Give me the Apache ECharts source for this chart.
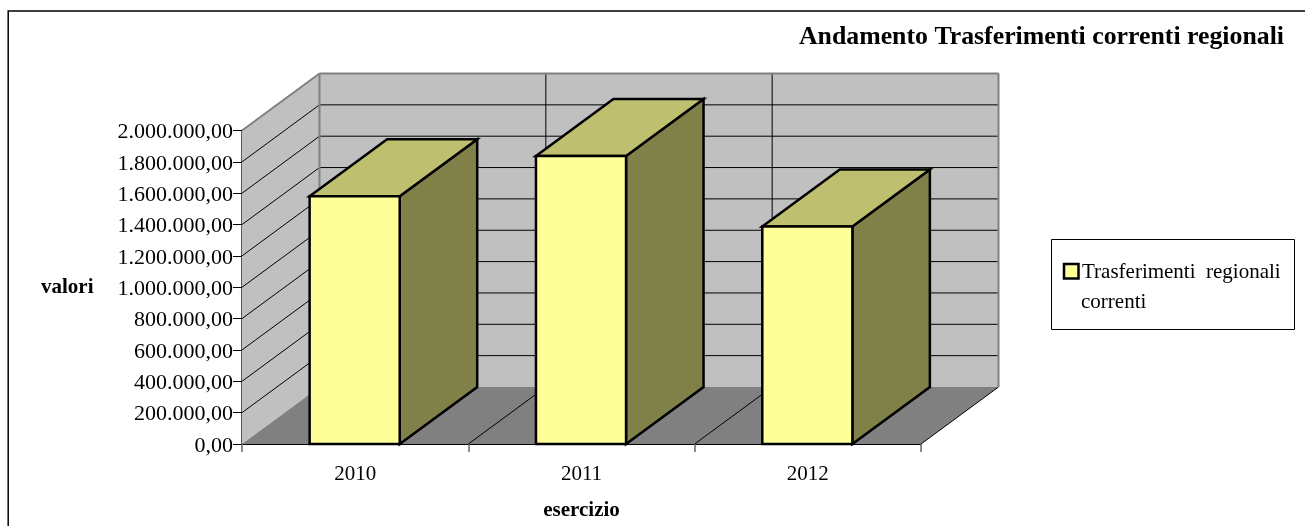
<!DOCTYPE html>
<html><head><meta charset="utf-8">
<style>html,body{margin:0;padding:0;background:#fff}#c{width:1305px;height:526px}</style>
<script src="https://cdn.jsdelivr.net/npm/echarts@6/dist/echarts.min.js"></script>
</head><body><div id="c"></div>
<script>
const categories = ['2010','2011','2012'];
const values = [1580000,1837000,1388000];
const gridValues = [0,200000,400000,600000,800000,1000000,1200000,1400000,1600000,1800000,2000000];
const seriesName = 'Trasferimenti regionali correnti';
const titleText = 'Andamento Trasferimenti correnti regionali';
const yAxisName = 'valori';
const xAxisName = 'esercizio';

const FONT = '"Liberation Serif","Times New Roman",serif';
const G = {l:242,r:921,t:130.5,b:444.5};
const DX = 77.5, DY = -57;
const chart = echarts.init(document.getElementById('c'),null,{renderer:'canvas'});
const fmt = v => {
  const s = String(v).replace(/\B(?=(\d{3})+(?!\d))/g,'.');
  return '{a|' + s + ',00}';
};
function poly(points,fill,stroke,lw,z){
  return {type:'polygon',shape:{points},z2:z||0,style:{fill,stroke,lineWidth:lw,lineJoin:'miter'}};
}
function line(a,b,stroke,lw,z){
  return {type:'line',shape:{x1:a[0],y1:a[1],x2:b[0],y2:b[1]},z2:z||0,style:{stroke,lineWidth:lw,fill:null}};
}
const back = p => [p[0]+DX,p[1]+DY];
function renderWalls(params,api){
  if(params.dataIndex!==0) return;
  const n = categories.length;
  const maxV = gridValues[gridValues.length-1];
  const A = api.coord([0,0]);
  const cw = api.size([1,0])[0];
  const x0 = A[0]-cw/2;
  const x1 = x0+cw*n;
  const yB = A[1], yT = api.coord([0,maxV])[1];
  const ch = [];
  const bl=[x0,yB], br=[x1,yB], tl=[x0,yT];
  ch.push(poly([bl,tl,back(tl),back(bl)],'#c0c0c0',null,0,0));
  ch.push(poly([back(bl),back(tl),[x1+DX,yT+DY],[x1+DX,yB+DY]],'#c0c0c0',null,0,0));
  ch.push(poly([bl,br,back(br),back(bl)],'#808080',null,0,1));
  gridValues.slice(1,-1).forEach(v=>{
    const y=api.coord([0,v])[1];
    ch.push(line([x0,y],back([x0,y]),'#000',1,2));
    ch.push(line(back([x0,y]),back([x1,y]),'#000',1,2));
  });
  ch.push(line([x0,yT],back([x0,yT]),'#808080',2,3));
  ch.push(line(back([x0,yT]),back([x1,yT]),'#808080',2,3));
  ch.push(line(back(tl),back(bl),'#808080',2,3));
  ch.push(line(back([x1,yT]),back([x1,yB]),'#808080',2,3));
  for(let i=1;i<n;i++){
    const x=x0+cw*i;
    ch.push(line(back([x,yT]),back([x,yB]),'#000',1,2));
    ch.push(line([x,yB],back([x,yB]),'#000',1,2));
  }
  ch.push(line(br,back(br),'#000',1,2));
  return {type:'group',children:ch};
}
function renderBar(params,api){
  const i=api.value(0), v=api.value(1);
  const c=api.coord([i,v]), b=api.coord([i,0]);
  const w=api.size([1,0])[0]*0.398;
  const xa=c[0]-w/2-0.5, xb=c[0]+w/2-0.5, yt=c[1], yb=b[1];
  const k='#000', lw=2.5;
  return {type:'group',children:[
    poly([[xb,yt],[xb,yb],back([xb,yb]),back([xb,yt])],'#808049',k,lw,10),
    poly([[xa,yt],[xb,yt],back([xb,yt]),back([xa,yt])],'#bfbf70',k,lw,11),
    poly([[xa,yt],[xb,yt],[xb,yb],[xa,yb]],'#ffff99',k,lw,12)
  ]};
}
chart.setOption({
  animation:false,
  backgroundColor:'#fff',
  grid:{left:G.l,top:G.t,width:G.r-G.l,height:G.b-G.t,containLabel:false},
  title:{text:titleText,right:21,top:24,padding:0,textStyle:{fontFamily:FONT,fontSize:25.8,fontWeight:'bold',color:'#000'}},
  xAxis:{type:'category',data:categories,boundaryGap:true,
    axisLine:{lineStyle:{color:'#000',width:1}},
    axisTick:{show:true,length:8,alignWithLabel:false,lineStyle:{color:'#666',width:1.5}},
    axisLabel:{fontFamily:FONT,fontSize:21,color:'#000',margin:20},
    name:xAxisName,nameLocation:'middle',nameGap:56,
    nameTextStyle:{fontFamily:FONT,fontSize:21,fontWeight:'bold',color:'#000'}},
  yAxis:{type:'value',min:0,max:2000000,interval:200000,
    axisLine:{show:true,lineStyle:{color:'#222',width:1.5}},
    axisTick:{show:true,length:9,lineStyle:{color:'#000'}},
    axisLabel:{margin:9,formatter:fmt,
      rich:{a:{fontFamily:FONT,fontSize:22,color:'#000',padding:[4,0,0,0]}}},
    splitLine:{show:false},
    name:yAxisName,nameLocation:'middle',nameGap:148.5,nameRotate:0,
    nameTextStyle:{fontFamily:FONT,fontSize:21,fontWeight:'bold',color:'#000'}},
  series:[
    {type:'custom',name:'walls',coordinateSystem:'cartesian2d',renderItem:renderWalls,
      data:categories.map((c,i)=>[i,0]),encode:{x:0,y:1},silent:true,z:1,clip:false},
    {type:'custom',name:seriesName,coordinateSystem:'cartesian2d',renderItem:renderBar,
      data:values.map((v,i)=>[i,v]),encode:{x:0,y:1},z:5,clip:false}
  ],
  graphic:[
    {type:'rect',z:-1,shape:{x:8.2,y:11,width:1320,height:540},style:{fill:null,stroke:'#000',lineWidth:1.5}},
    {type:'rect',shape:{x:1051.5,y:239.5,width:243,height:90},style:{fill:'#fff',stroke:'#000',lineWidth:1}},
    {type:'rect',shape:{x:1064,y:264,width:14.5,height:14.5},style:{fill:'#ffff99',stroke:'#000',lineWidth:2.5}},
    {type:'text',x:1082,y:262,style:{text:'Trasferimenti  regionali',font:'21px '+FONT,fill:'#000'}},
    {type:'text',x:1081,y:292,style:{text:'correnti',font:'21px '+FONT,fill:'#000'}}
  ]
});
</script></body></html>
